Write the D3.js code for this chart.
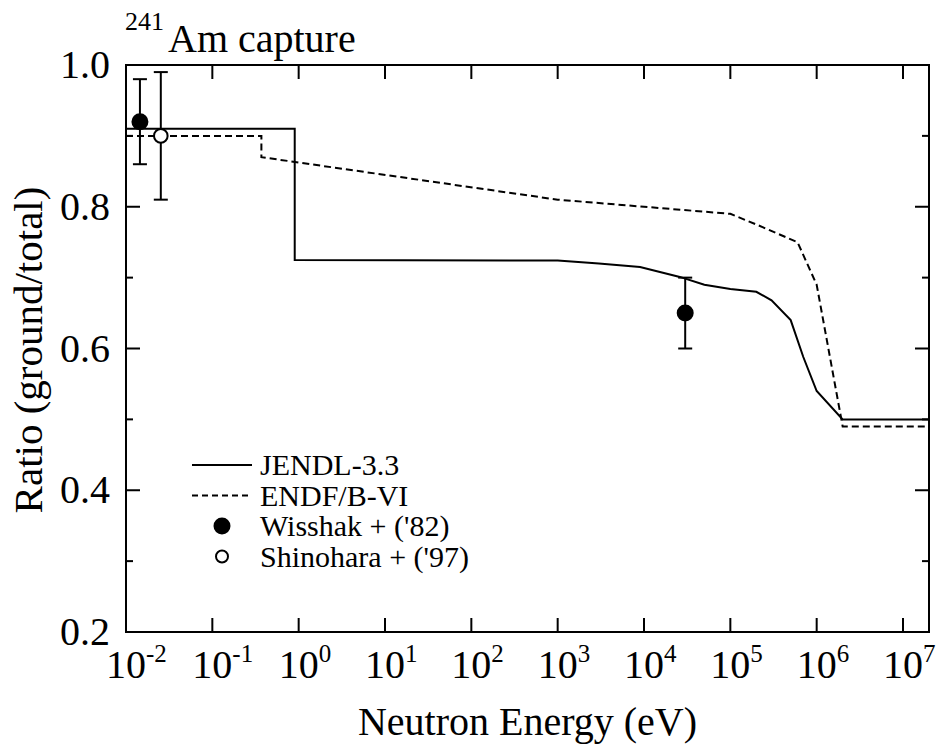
<!DOCTYPE html>
<html>
<head>
<meta charset="utf-8">
<script src="https://cdn.jsdelivr.net/npm/d3@7"></script>
<style>
  html, body { margin: 0; padding: 0; background: #fff; }
  svg { display: block; }
  text { font-family: 'Liberation Serif', 'Tinos', 'DejaVu Serif', serif; }
</style>
</head>
<body>
<div id="chart"></div>
<script>
// Evaluated curves (energy in eV, ratio ground/total)
const jendlEnergy = [1e-2, 0.9, 0.9, 1e3, 3e3, 9e3, 2.6e4, 5e4, 1e5, 2e5, 3e5, 5e5, 7e5, 1e6, 2e6, 2e7];
const jendlRatio  = [0.91, 0.91, 0.725, 0.724, 0.72, 0.715, 0.701, 0.69, 0.684, 0.68, 0.668, 0.64, 0.588, 0.54, 0.50, 0.50];

const endfEnergy = [1e-2, 0.37, 0.37, 1e3, 1e4, 1e5, 2e5, 6e5, 1e6, 2e6, 2e7];
const endfRatio  = [0.90, 0.90, 0.87, 0.81, 0.80, 0.79, 0.775, 0.75, 0.69, 0.49, 0.49];

// Measurements
const wisshakEnergy = [0.0145, 3e4];
const wisshakRatio  = [0.92, 0.65];
const wisshakError  = [0.06, 0.05];

const shinoharaEnergy = [0.0253];
const shinoharaRatio  = [0.90];
const shinoharaError  = [0.09];

// Axis ticks
const xTickExponents = [-2, -1, 0, 1, 2, 3, 4, 5, 6, 7];
const yMajorTicks = [0.2, 0.4, 0.6, 0.8, 1.0];
const yMinorTicks = [0.3, 0.5, 0.7, 0.9];

const legendLabels = ['JENDL-3.3', 'ENDF/B-VI', "Wisshak + ('82)", "Shinohara + ('97)"];

const FONT = "'Liberation Serif', 'Tinos', 'DejaVu Serif', serif";
const W = 939, H = 747;
const plot = { left: 126, right: 929, top: 65, bottom: 632 };

const svg = d3.select('#chart')
  .append('svg')
  .attr('width', W)
  .attr('height', H)
  .attr('font-family', FONT);

const xScale = d3.scaleLog().domain([1e-2, 2e7]).range([plot.left, plot.right]);
const yScale = d3.scaleLinear().domain([0.2, 1.0]).range([plot.bottom, plot.top]);

const zip = (xs, ys) => xs.map((x, i) => ({ x, y: ys[i] }));

const line = d3.line()
  .x(d => xScale(d.x))
  .y(d => yScale(d.y));

// Curves
svg.append('path')
  .attr('d', line(zip(endfEnergy, endfRatio)))
  .attr('fill', 'none')
  .attr('stroke', '#000')
  .attr('stroke-width', 2)
  .attr('stroke-dasharray', '7,4');

svg.append('path')
  .attr('d', line(zip(jendlEnergy, jendlRatio)))
  .attr('fill', 'none')
  .attr('stroke', '#000')
  .attr('stroke-width', 2);

// Error bars + markers
function drawPoints(energy, ratio, err, filled) {
  const g = svg.append('g');
  energy.forEach((e, i) => {
    const cx = xScale(e);
    const y0 = yScale(ratio[i] - err[i]);
    const y1 = yScale(ratio[i] + err[i]);
    g.append('line').attr('x1', cx).attr('x2', cx).attr('y1', y0).attr('y2', y1)
      .attr('stroke', '#000').attr('stroke-width', 2);
    [y0, y1].forEach(yy => {
      g.append('line').attr('x1', cx - 7).attr('x2', cx + 7).attr('y1', yy).attr('y2', yy)
        .attr('stroke', '#000').attr('stroke-width', 2);
    });
    g.append('circle')
      .attr('cx', cx)
      .attr('cy', yScale(ratio[i]))
      .attr('r', filled ? 7.5 : 6.8)
      .attr('fill', filled ? '#000' : '#fff')
      .attr('stroke', '#000')
      .attr('stroke-width', 2);
  });
}
drawPoints(wisshakEnergy, wisshakRatio, wisshakError, true);
drawPoints(shinoharaEnergy, shinoharaRatio, shinoharaError, false);

// Frame
svg.append('rect')
  .attr('x', plot.left)
  .attr('y', plot.top)
  .attr('width', plot.right - plot.left)
  .attr('height', plot.bottom - plot.top)
  .attr('fill', 'none')
  .attr('stroke', '#000')
  .attr('stroke-width', 2);

// Ticks (inward, all four sides)
const ticks = svg.append('g').attr('stroke', '#000').attr('stroke-width', 2);
xTickExponents.forEach(p => {
  const x = xScale(Math.pow(10, p));
  if (x <= plot.left + 1) return;
  ticks.append('line').attr('x1', x).attr('x2', x).attr('y1', plot.bottom).attr('y2', plot.bottom - 14);
  ticks.append('line').attr('x1', x).attr('x2', x).attr('y1', plot.top).attr('y2', plot.top + 14);
});
yMajorTicks.concat(yMinorTicks).forEach(v => {
  const y = yScale(v);
  const len = yMajorTicks.includes(v) ? 14 : 7;
  ticks.append('line').attr('x1', plot.left).attr('x2', plot.left + len).attr('y1', y).attr('y2', y);
  ticks.append('line').attr('x1', plot.right).attr('x2', plot.right - len).attr('y1', y).attr('y2', y);
});

// X tick labels: 10^n
xTickExponents.forEach(p => {
  const x = xScale(Math.pow(10, p));
  svg.append('text')
    .attr('x', x)
    .attr('y', 678)
    .attr('text-anchor', 'middle')
    .attr('font-size', 40)
    .text('10');
  svg.append('text')
    .attr('x', x + 20)
    .attr('y', 662)
    .attr('font-size', 25)
    .text(String(p));
});

// Y tick labels
yMajorTicks.forEach(v => {
  svg.append('text')
    .attr('x', 110)
    .attr('y', yScale(v) + 13)
    .attr('text-anchor', 'end')
    .attr('font-size', 40)
    .text(d3.format('.1f')(v));
});

// Axis titles
svg.append('text')
  .attr('x', (plot.left + plot.right) / 2)
  .attr('y', 735)
  .attr('text-anchor', 'middle')
  .attr('font-size', 40)
  .text('Neutron Energy (eV)');

svg.append('text')
  .attr('transform', `translate(42,350) rotate(-90)`)
  .attr('text-anchor', 'middle')
  .attr('font-size', 41)
  .text('Ratio (ground/total)');

// Title with superscript mass number
svg.append('text')
  .attr('x', 125)
  .attr('y', 30)
  .attr('font-size', 26)
  .text('241');
svg.append('text')
  .attr('x', 168)
  .attr('y', 52)
  .attr('font-size', 40)
  .text('Am capture');

// Legend
const legend = svg.append('g');
const legY0 = 465, legStep = 30.5;
legendLabels.forEach((label, i) => {
  const y = legY0 + i * legStep;
  if (i < 2) {
    legend.append('line')
      .attr('x1', 192).attr('x2', 252).attr('y1', y).attr('y2', y)
      .attr('stroke', '#000').attr('stroke-width', 2)
      .attr('stroke-dasharray', i === 1 ? '6,4' : null);
  } else {
    legend.append('circle')
      .attr('cx', 222).attr('cy', y)
      .attr('r', i === 2 ? 7.5 : 6)
      .attr('fill', i === 2 ? '#000' : '#fff')
      .attr('stroke', '#000').attr('stroke-width', 2);
  }
  legend.append('text')
    .attr('x', 260)
    .attr('y', y + 10)
    .attr('font-size', 30)
    .text(label);
});
</script>
</body>
</html>
